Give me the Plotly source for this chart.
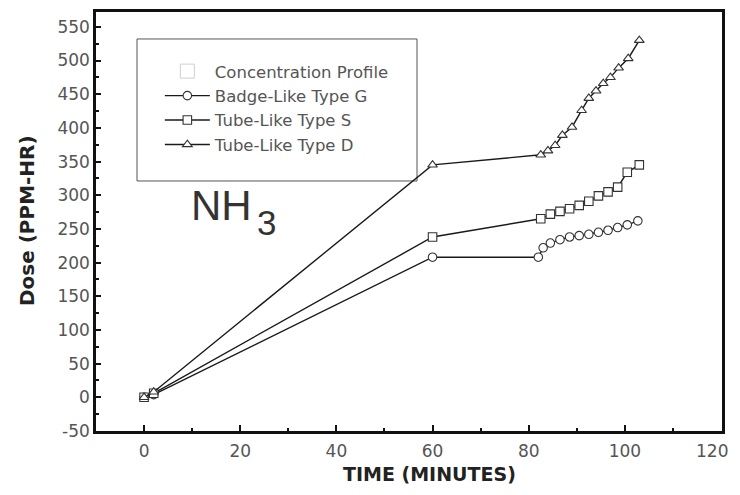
import plotly.graph_objects as go

# ---- data ----
time_G = [0, 2, 60, 82, 83, 84.5, 86.5, 88.5, 90.5, 92.5, 94.5, 96.5, 98.5, 100.5, 102.7]
dose_G = [0, 4, 208, 208, 222, 229, 234, 238, 240, 242, 245, 248, 252, 256, 262]

time_S = [0, 2, 60, 82.5, 84.5, 86.5, 88.5, 90.5, 92.5, 94.5, 96.5, 98.5, 100.5, 103]
dose_S = [0, 6, 238, 265, 272, 276, 280, 285, 291, 299, 305, 312, 334, 345]

time_D = [0, 2, 60, 82.5, 84, 85.5, 87, 89, 91, 92.5, 94, 95.5, 97, 98.7, 100.7, 103]
dose_D = [0, 8, 345, 360, 366, 374, 389, 401, 426, 444, 455, 466, 475, 489, 503, 530]

series_names = ["Badge-Like Type G", "Tube-Like Type S", "Tube-Like Type D"]
x_ticks = [0, 20, 40, 60, 80, 100, 120]
y_ticks = [-50, 0, 50, 100, 150, 200, 250, 300, 350, 400, 450, 500, 550]

FONT = "DejaVu Sans, Liberation Sans, Arial, sans-serif"
AFONT = "Liberation Sans, Arial, sans-serif"
INK = "#1a1a1a"
TICK_GRAY = "#555555"

fig = go.Figure()

# legend-only entry
fig.add_trace(go.Scatter(
    x=[None], y=[None], mode="markers", name="Concentration Profile",
    marker=dict(symbol="square-open", size=14, color="#cfcfcf", line=dict(width=1)),
    legendgroup="c", hoverinfo="skip"))

for name, xs, ys, sym, grp in [
    (series_names[0], time_G, dose_G, "circle", "g"),
    (series_names[1], time_S, dose_S, "square", "s"),
    (series_names[2], time_D, dose_D, "triangle-up", "d"),
]:
    fig.add_trace(go.Scatter(
        x=xs, y=ys, mode="lines+markers", name=name, legendgroup=grp,
        line=dict(color=INK, width=1.4),
        marker=dict(symbol=sym, size=8.5, color="white",
                    line=dict(color="#333333", width=1.1)),
    ))

# legend frame
fig.add_shape(type="rect", xref="paper", yref="paper",
              x0=0.0655, x1=0.5128, y0=0.5967, y1=0.9356,
              line=dict(color="#555555", width=1), fillcolor="white", layer="below")

# NH3 label
fig.add_annotation(
    x=0.1486, y=0.539, xref="paper", yref="paper", text="NH",
    showarrow=False, xanchor="left", yanchor="middle",
    font=dict(family=AFONT, size=42, color="#333333"))
fig.add_annotation(
    x=0.254, y=0.4988, xref="paper", yref="paper", text="3",
    showarrow=False, xanchor="left", yanchor="middle",
    font=dict(family=AFONT, size=35, color="#333333"))

# axis titles
fig.add_annotation(
    x=0.5335, y=-0.1026, xref="paper", yref="paper", text="<b>TIME (MINUTES)</b>",
    showarrow=False, xanchor="center", yanchor="middle",
    font=dict(family=FONT, size=19, color="#222222"))
fig.add_annotation(
    x=-0.1102, y=0.501, xref="paper", yref="paper", text="<b>Dose (PPM-HR)</b>",
    showarrow=False, xanchor="center", yanchor="middle", textangle=-90,
    font=dict(family=FONT, size=20, color="#222222"))

# last x tick label placed just inside the page edge
fig.add_annotation(
    x=x_ticks[-1], y=-0.0477, xref="x", yref="paper", text=str(x_ticks[-1]),
    showarrow=False, xanchor="right", yanchor="middle", xshift=9,
    font=dict(family=FONT, size=17, color=TICK_GRAY))

fig.update_layout(
    width=724, height=479,
    margin=dict(l=88, r=10, t=4, b=56),
    paper_bgcolor="white", plot_bgcolor="white",
    font=dict(family=FONT, color="#444444"),
    showlegend=True,
    legend=dict(
        x=0.102, y=0.900, xanchor="left", yanchor="top",
        bgcolor="rgba(0,0,0,0)", borderwidth=0,
        font=dict(family=FONT, size=16.5, color="#555555"),
        itemwidth=45, tracegroupgap=3, traceorder="normal",
        itemclick=False, itemdoubleclick=False,
    ),
)

fig.update_xaxes(
    range=[-10, 120.2], tickvals=x_ticks,
    ticktext=[str(v) for v in x_ticks[:-1]] + [""],
    ticks="inside", ticklen=6, tickwidth=2, tickcolor="#111111",
    minor=dict(dtick=10, tick0=0, ticks="inside", ticklen=3, tickwidth=2, tickcolor="#111111"),
    showline=True, linewidth=2.5, linecolor="#111111", mirror=True,
    showgrid=False, zeroline=False, ticklabelstandoff=3, automargin=False,
    tickfont=dict(family=FONT, size=17, color=TICK_GRAY),
)
fig.update_yaxes(
    range=[-50, 572], tickvals=y_ticks, ticktext=[str(v) for v in y_ticks],
    ticks="inside", ticklen=5, tickwidth=2, tickcolor="#111111",
    minor=dict(dtick=25, tick0=0, ticks="inside", ticklen=3, tickwidth=1.5, tickcolor="#111111"),
    showline=True, linewidth=2.5, linecolor="#111111", mirror=True,
    showgrid=False, zeroline=False, automargin=False,
    tickfont=dict(family=FONT, size=17, color=TICK_GRAY),
)

fig.write_html("out.html")
